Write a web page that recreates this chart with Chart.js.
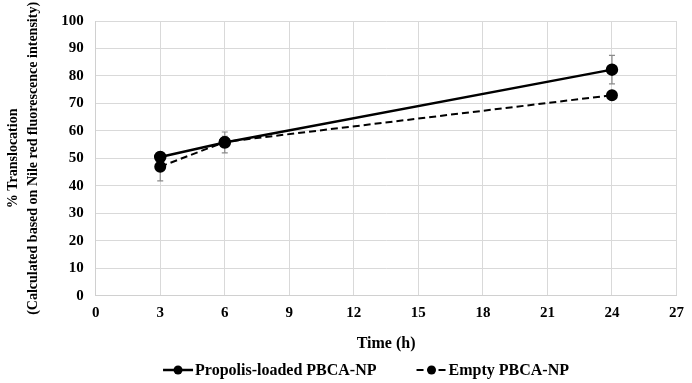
<!DOCTYPE html>
<html><head><meta charset="utf-8">
<script src="https://cdn.jsdelivr.net/npm/chart.js@4/dist/chart.umd.min.js"></script>
<style>html,body{margin:0;padding:0;background:#fff}#w{width:692px;height:383px}</style>
</head><body><div id="w"><canvas id="c"></canvas></div>
<script>
const timePoints = [3, 6, 24];
const propolisValues = [50.5, 55.8, 82.3];
const propolisErrors = [1.0, 3.8, 5.2];
const emptyValues = [47.0, 56.0, 73.0];
const emptyErrors = [5.2, 2.0, 1.0];
const xTicks = [0, 3, 6, 9, 12, 15, 18, 21, 24, 27];
const yTicks = [0, 10, 20, 30, 40, 50, 60, 70, 80, 90, 100];
const seriesNames = ['Propolis-loaded PBCA-NP', 'Empty PBCA-NP'];

const font = "'Liberation Serif', 'Times New Roman', serif";

const errorBars = {
  id: 'errorBars',
  beforeDatasetsDraw(chart) {
    const ctx = chart.ctx, ys = chart.scales.y, xs = chart.scales.x;
    ctx.save();
    ctx.strokeStyle = '#8a8a8a'; ctx.lineWidth = 1.2;
    chart.data.datasets.forEach(ds => {
      ds.data.forEach((p, i) => {
        const e = ds.errors[i];
        const x = xs.getPixelForValue(p.x);
        const y1 = ys.getPixelForValue(p.y + e), y2 = ys.getPixelForValue(p.y - e);
        ctx.beginPath();
        ctx.moveTo(x, y1); ctx.lineTo(x, y2);
        ctx.moveTo(x - 3, y1); ctx.lineTo(x + 3, y1);
        ctx.moveTo(x - 3, y2); ctx.lineTo(x + 3, y2);
        ctx.stroke();
      });
    });
    ctx.restore();
  }
};

const customLegend = {
  id: 'customLegend',
  afterDraw(chart) {
    const ctx = chart.ctx;
    ctx.save();
    ctx.font = "bold 16px " + font;
    ctx.textBaseline = 'middle';
    const iconW = 30, gap = 2, spacing = 40;
    const widths = chart.data.datasets.map(ds => ctx.measureText(ds.label).width);
    const total = widths.reduce((a, w) => a + iconW + gap + w, 0) + spacing * (widths.length - 1);
    let x = chart.width / 2 + 20 - total / 2;
    const y = 370;
    chart.data.datasets.forEach((ds, i) => {
      ctx.strokeStyle = '#000'; ctx.lineWidth = ds.borderWidth;
      ctx.setLineDash(ds.borderDash || []);
      ctx.beginPath(); ctx.moveTo(x, y); ctx.lineTo(x + iconW, y); ctx.stroke();
      ctx.setLineDash([]);
      ctx.fillStyle = '#000';
      ctx.beginPath(); ctx.arc(x + iconW / 2, y, 4.5, 0, Math.PI * 2); ctx.fill();
      ctx.fillText(ds.label, x + iconW + gap, y + 1);
      x += iconW + gap + widths[i] + spacing;
    });
    ctx.restore();
  }
};

new Chart(document.getElementById('c'), {
  type: 'scatter',
  data: {
    datasets: [
      { label: seriesNames[0], data: timePoints.map((t, i) => ({x: t, y: propolisValues[i]})), errors: propolisErrors,
        showLine: true, borderColor: '#000', backgroundColor: '#000', borderWidth: 2.5,
        pointRadius: 5, pointHoverRadius: 5 },
      { label: seriesNames[1], data: timePoints.map((t, i) => ({x: t, y: emptyValues[i]})), errors: emptyErrors,
        showLine: true, borderColor: '#000', backgroundColor: '#000', borderWidth: 2, borderDash: [7, 4],
        pointRadius: 5, pointHoverRadius: 5 }
    ]
  },
  options: {
    responsive: true, maintainAspectRatio: false, animation: false,
    layout: { padding: { top: 14, right: 0, left: 4, bottom: 30 } },
    plugins: { tooltip: { enabled: false }, legend: { display: false } },
    scales: {
      x: {
        type: 'linear', min: 0, max: 27,
        afterBuildTicks(s) { s.ticks = xTicks.map(v => ({value: v})); },
        grid: { color: '#d9d9d9', drawTicks: false },
        border: { color: '#d0d0d0' },
        ticks: { color: '#000', padding: 8, font: { family: font, size: 15, weight: 'bold' } },
        title: { display: true, text: 'Time (h)', color: '#000', padding: { top: 4, bottom: 0 },
          font: { family: font, size: 16, weight: 'bold' } }
      },
      y: {
        min: 0, max: 100,
        afterBuildTicks(s) { s.ticks = yTicks.map(v => ({value: v})); },
        grid: { color: '#d9d9d9', drawTicks: false },
        border: { color: '#d0d0d0' },
        ticks: { color: '#000', padding: 12, font: { family: font, size: 15, weight: 'bold' } },
        title: { display: true, text: ['% Translocation', '(Calculated based on Nile red fluorescence intensity)'],
          color: '#000', padding: { top: 0, bottom: 6 },
          font: { family: font, size: 14, weight: 'bold', lineHeight: 1.4 } }
      }
    }
  },
  plugins: [errorBars, customLegend]
});
</script>
</body></html>
